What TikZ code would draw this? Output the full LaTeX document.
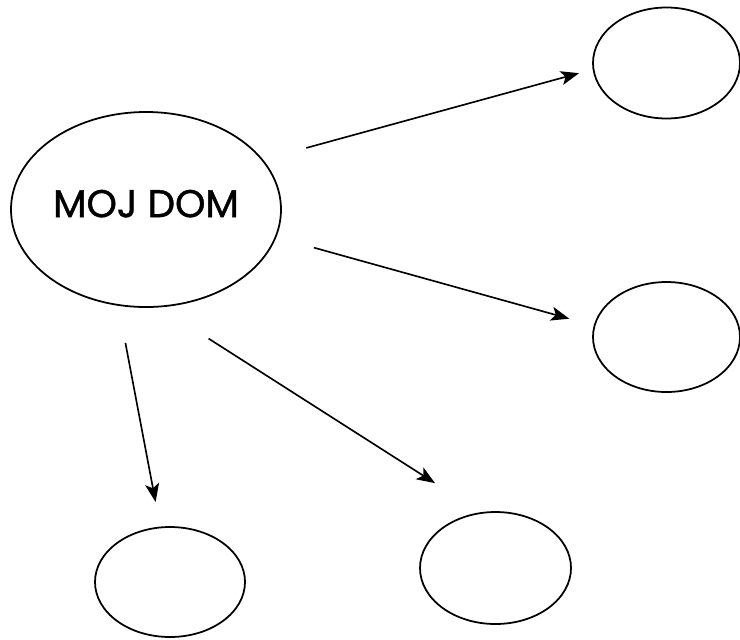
\documentclass[tikz,border=0pt]{standalone}
\usepackage{fontspec}
\setmainfont{Poppins}
\newfontfamily\domfont[FakeBold=1.2]{Poppins}
\usetikzlibrary{shapes.geometric,arrows.meta}

\begin{document}
\begin{tikzpicture}[x=0.03cm,y=-0.03cm,
    bubble/.style={ellipse, draw, line width=1.5pt, inner sep=0pt,
                   minimum width=4.41cm, minimum height=3.33cm},
    link/.style={line width=1.4pt, -{Stealth[length=0.55cm,width=0.42cm,inset=0.13cm]}}]
    \useasboundingbox (0,0) rectangle (740,639);

    % --- Ellipses ---
    \node[bubble, minimum width=8.1cm, minimum height=5.85cm, text depth=0.36cm,
          font=\domfont\fontsize{33}{36}\selectfont] (dom) at (146,209.5) {MOJ DOM};
    \node[bubble] (topR) at (666.5,63) {};
    \node[bubble, minimum height=3.3cm] (midR) at (666.5,337) {};
    \node[bubble, minimum width=4.5cm, minimum height=3.3cm] (botL) at (170,582) {};
    \node[bubble, minimum width=4.53cm, minimum height=3.36cm] (botM) at (495.5,568) {};

    % --- Arrows ---
    \draw[link, shorten <=1.34cm, shorten >=0.42cm] (dom.23) -- (topR.185);   % to top right
    \draw[link, shorten <=1.17cm, shorten >=0.76cm] (dom.348) -- (midR.171);  % to middle right
    \draw[link, shorten <=1.13cm, shorten >=0.75cm] (dom.254) -- (botL.100);  % down left
    \draw[link, shorten <=1.74cm, shorten >=1.62cm] (dom.278) -- (botM.105);  % down middle

\end{tikzpicture}
\end{document}
